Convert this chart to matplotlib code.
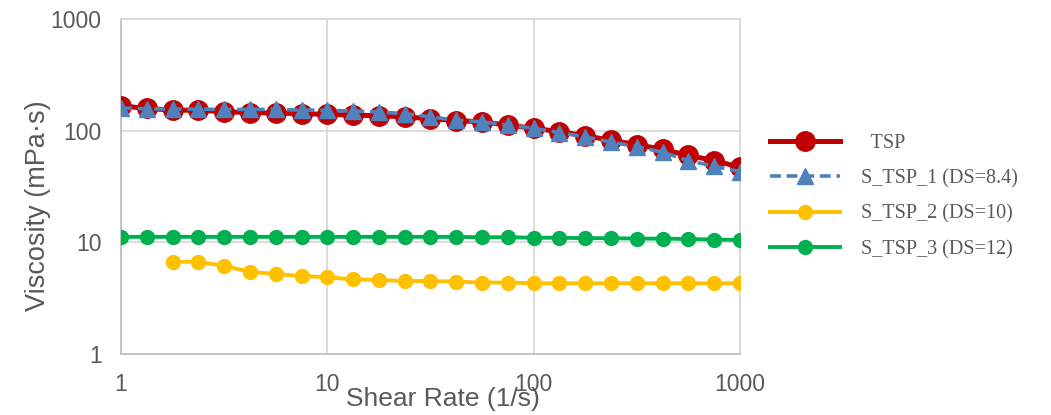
import numpy as np
import matplotlib.pyplot as plt
from matplotlib.ticker import FixedLocator, NullLocator

# shear rate: 8 points per decade, 1 .. 1000
shear_rate = [1.0, 1.33, 1.78, 2.37, 3.16, 4.22, 5.62, 7.5, 10.0, 13.3, 17.8, 23.7,
              31.6, 42.2, 56.2, 75.0, 100.0, 133.0, 178.0, 237.0, 316.0, 422.0,
              562.0, 750.0, 1000.0]

tsp = [167, 158, 153, 152, 148, 145, 144, 142, 140, 138, 136, 133,
       128, 123, 120, 112, 105, 98, 90, 82, 75, 68, 60, 54, 47]
s_tsp_1 = [160, 157, 156, 156, 155, 155, 155, 153, 152, 150, 147, 142,
           133, 124, 120, 112, 105, 96, 88, 79, 72, 64, 54, 48, 43]
s_tsp_2 = [6.7, 6.7, 6.15, 5.45, 5.2, 5.0, 4.86, 4.66, 4.6, 4.5, 4.5,
           4.45, 4.36, 4.36, 4.3, 4.3, 4.3, 4.3, 4.3, 4.3, 4.3, 4.3, 4.3]
s_tsp_3 = [11.2, 11.2, 11.2, 11.2, 11.2, 11.2, 11.2, 11.2, 11.2, 11.2, 11.2,
           11.2, 11.2, 11.2, 11.1, 11.1, 11.0, 11.0, 10.9, 10.9, 10.8, 10.8,
           10.7, 10.6, 10.5]

labels = ['  TSP', 'S_TSP_1 (DS=8.4)', 'S_TSP_2 (DS=10)', 'S_TSP_3 (DS=12)']
y_ticks = [1, 10, 100, 1000]
x_ticks = [1, 10, 100, 1000]

txt = '#595959'

fig = plt.figure(figsize=(10.51, 4.15), dpi=100)
ax = fig.add_axes([0.1151, 0.1470, 0.5890, 0.8072])

ax.plot(shear_rate, tsp, color='#C00000', lw=3.6, marker='o', ms=14,
        label=labels[0], zorder=3)
ax.plot(shear_rate, s_tsp_1, color='#4F81BD', lw=2.6, ls=(0, (3, 1.6)),
        marker='^', ms=11, label=labels[1], zorder=4)
ax.plot(shear_rate[2:], s_tsp_2, color='#FFC000', lw=2.8, marker='o', ms=10,
        label=labels[2], zorder=3)
ax.plot(shear_rate, s_tsp_3, color='#00B050', lw=2.8, marker='o', ms=10,
        label=labels[3], zorder=3)

ax.set_xscale('log')
ax.set_yscale('log')
ax.set_xlim(1, 1000)
ax.set_ylim(1, 1000)
ax.xaxis.set_major_locator(FixedLocator(x_ticks))
ax.yaxis.set_major_locator(FixedLocator(y_ticks))
ax.xaxis.set_minor_locator(NullLocator())
ax.yaxis.set_minor_locator(NullLocator())
ax.set_xticklabels([str(v) for v in x_ticks])
ax.set_yticklabels([str(v) for v in y_ticks])
ax.tick_params(length=0, labelsize=16.5, labelcolor=txt)
ax.tick_params(axis='x', pad=13.5)
ax.tick_params(axis='y', pad=14)
for t in ax.get_xticklabels() + ax.get_yticklabels():
    t.set_fontfamily('Liberation Sans')

ax.grid(True, color='#D9D9D9', lw=1.3)
ax.set_axisbelow(True)
for s in ['left', 'bottom']:
    ax.spines[s].set_color('#BFBFBF')
    ax.spines[s].set_linewidth(1.3)
for s in ['top', 'right']:
    ax.spines[s].set_color('#D9D9D9')
    ax.spines[s].set_linewidth(1.3)

ax.set_xlabel('Shear Rate (1/s)', fontsize=19, color=txt, family='Liberation Sans', va='center')
ax.xaxis.set_label_coords(0.52, -0.134)
ax.set_ylabel('Viscosity (mPa·s)', fontsize=19.5, color=txt, family='Liberation Sans', va='center')
ax.yaxis.set_label_coords(-0.134, 0.442)

leg = fig.legend(loc='upper left', bbox_to_anchor=(770 / 1051, 1 - 134 / 415),
                 frameon=False, borderpad=0, borderaxespad=0,
                 handlelength=3.5, handletextpad=1.0, labelspacing=0.8,
                 prop={'family': 'Liberation Serif', 'size': 14.5})
for t in leg.get_texts():
    t.set_color(txt)

fig.savefig('out.png', dpi=100)
